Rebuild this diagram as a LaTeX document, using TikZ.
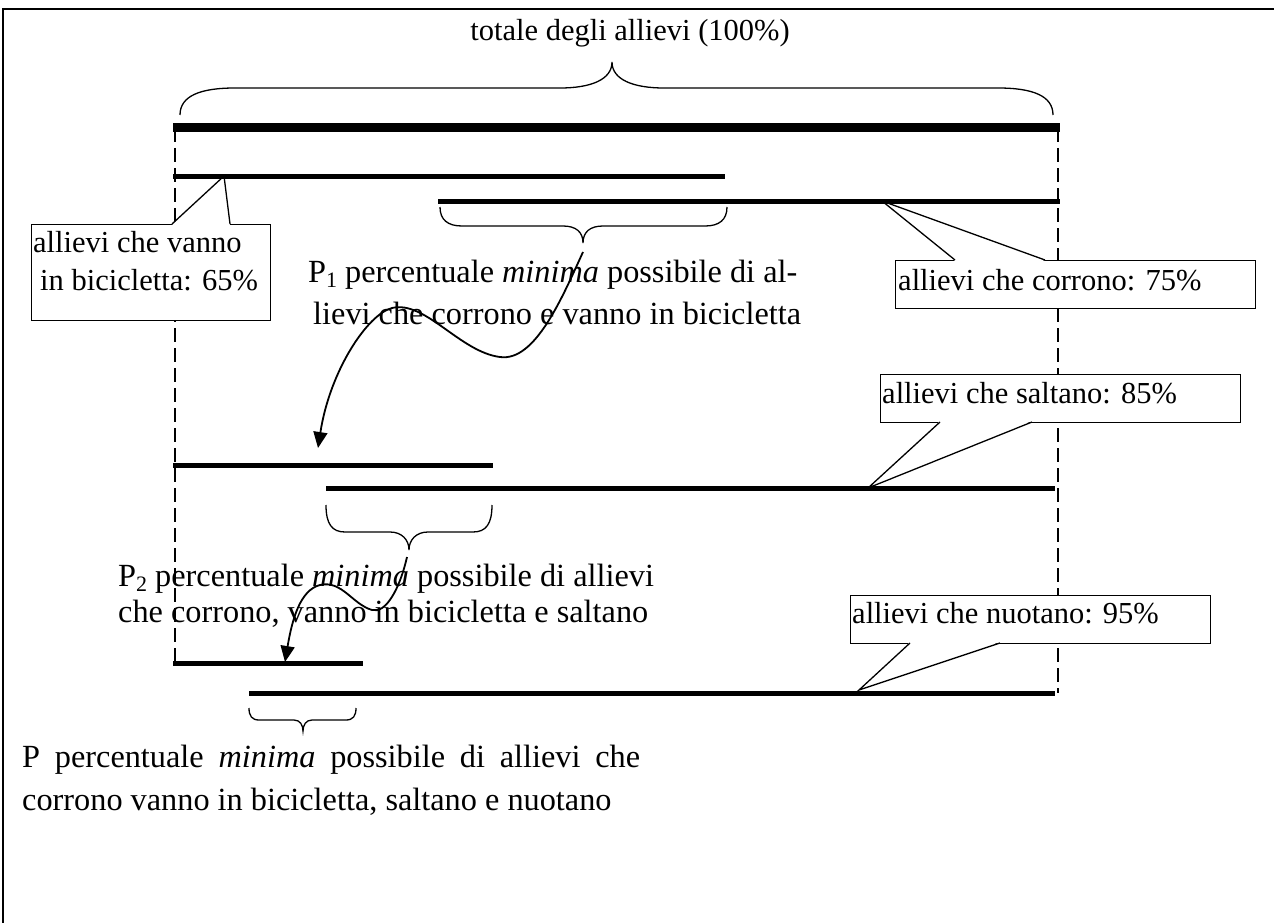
\documentclass[tikz,border=0pt]{standalone}
\usepackage{fontspec}
\setmainfont{Liberation Serif}
\usetikzlibrary{arrows.meta}
\newcommand\mysub[1]{\raisebox{-0.17em}{\fontsize{22}{22}\selectfont #1}}
\begin{document}
\begin{tikzpicture}[x=1pt,y=-1pt,
  txt/.style={font=\fontsize{30.5}{36}\selectfont, inner sep=0pt, anchor=base west},
  ptxt/.style={font=\fontsize{32.3}{38}\selectfont, inner sep=0pt, anchor=base west},
  bar/.style={line width=5pt},
  thickbar/.style={line width=9pt},
  guide/.style={line width=1.3pt, dash pattern=on 14pt off 6pt},
  callbox/.style={draw, line width=1.3pt, fill=white, rectangle, inner sep=0pt, anchor=north west},
  pointer/.style={line width=1.3pt},
  bracepath/.style={line width=1.3pt},
  curvy/.style={line width=1.8pt, -{Triangle[length=16pt,width=14pt]}},
  frame/.style={line width=1.8pt}
]
\useasboundingbox (0,0) rectangle (1274,923);
% frame
\draw[frame] (3,923) -- (3,9) -- (1274,9);

% guide lines
\draw[guide] (175,128) -- (175,663);
\draw[guide] (1058,128) -- (1058,693);

% callout boxes
\node[callbox, minimum width=239pt, minimum height=96pt] (c65) at (31,224) {};
\node[callbox, minimum width=360pt, minimum height=48pt] (c75) at (895,260) {};
\node[callbox, minimum width=360pt, minimum height=48pt] (c85) at (880,374) {};
\node[callbox, minimum width=360pt, minimum height=48pt] (c95) at (850,595) {};

% pointer tips
\coordinate (p65) at (224,176);
\coordinate (p75) at (882,201);
\coordinate (p85) at (868,488);
\coordinate (p95) at (859,690);

\fill[white] (172,225) -- (p65) -- (230,225) -- cycle;
\draw[pointer] (172,224) -- (p65) -- (230,224);
\fill[white] (955,261) -- (p75) -- (1045,261) -- cycle;
\draw[pointer] (955,260) -- (p75) -- (1045,260);
\fill[white] (940,421) -- (p85) -- (1032,421) -- cycle;
\draw[pointer] (940,422) -- (p85) -- (1032,422);
\fill[white] (910,642) -- (p95) -- (1000,642) -- cycle;
\draw[pointer] (910,643) -- (p95) -- (1000,643);

% bars
\draw[thickbar] (173,128) -- (1060,128);
\draw[bar] (173,176) -- (725,176);
\draw[bar] (438,201) -- (1060,201);
\draw[bar] (173,465) -- (493,465);
\draw[bar] (326,488) -- (1055,488);
\draw[bar] (173,663) -- (363,663);
\draw[bar] (249,693) -- (1055,693);

% braces
\draw[bracepath] (180,115) .. controls (180,96) and (200,88) .. (235,88)
  -- (560,88) .. controls (590,88) and (612,80) .. (612,62)
  .. controls (612,80) and (634,88) .. (664,88)
  -- (998,88) .. controls (1033,88) and (1053,96) .. (1053,115);
\draw[bracepath] (440,207) .. controls (440,220) and (448,226) .. (462,226)
  -- (563,226) .. controls (576,226) and (583,232) .. (583,243)
  .. controls (583,232) and (590,226) .. (603,226)
  -- (705,226) .. controls (719,226) and (727,220) .. (727,207);
\draw[bracepath] (326,505) .. controls (326,524) and (332,532) .. (345,532)
  -- (390,532) .. controls (402,532) and (409,540) .. (409,550)
  .. controls (409,540) and (416,532) .. (428,532)
  -- (473,532) .. controls (486,532) and (492,524) .. (492,505);
\draw[bracepath] (249,708) .. controls (249,716) and (252,720) .. (259,720)
  -- (294,720) .. controls (300,720) and (303,725) .. (303,731)
  .. controls (303,725) and (306,720) .. (312,720)
  -- (346,720) .. controls (353,720) and (356,716) .. (356,708);

% texts
\node[txt, anchor=base] (title) at (630,41) {totale degli allievi (100\%)};
\node[txt] (t65a) at (33,252) {allievi che vanno};
\node[txt] (t65b) at (40,290) {in bicicletta: 65\%};
\node[txt] (t75) at (898,290) {allievi che corrono: 75\%};
\node[txt] (t85) at (882,403) {allievi che saltano: 85\%};
\node[txt] (t95) at (852,623) {allievi che nuotano: 95\%};
\node[ptxt] (p1a) at (308,282) {P\mysub{1} percentuale \textit{minima} possibile di al-};
\node[ptxt] (p1b) at (313,324) {lievi che corrono e vanno in bicicletta};
\node[ptxt] (p2a) at (118,586) {P\mysub{2} percentuale \textit{minima} possibile di allievi};
\node[ptxt] (p2b) at (118,622) {che corrono, vanno in bicicletta e saltano};
\node[ptxt] (pa) at (22,767) {\makebox[618pt][s]{P percentuale \textit{minima} possibile di allievi che}};
\node[ptxt] (pb) at (22,810) {corrono vanno in bicicletta, saltano e nuotano};

% curvy arrows
\coordinate (a1s) at (583,252);
\coordinate (a1e) at (318,448);
\coordinate (a2s) at (407,557);
\coordinate (a2e) at (285,662);
\draw[curvy] (a1s) .. controls (562,298) and (535,362) .. (500,357)
  .. controls (460,352) and (425,300) .. (392,308)
  .. controls (368,314) and (330,370) .. (a1e);
\draw[curvy] (a2s) .. controls (400,588) and (386,614) .. (372,610)
  .. controls (352,604) and (342,580) .. (320,585)
  .. controls (300,590) and (292,620) .. (a2e);
\end{tikzpicture}
\end{document}
